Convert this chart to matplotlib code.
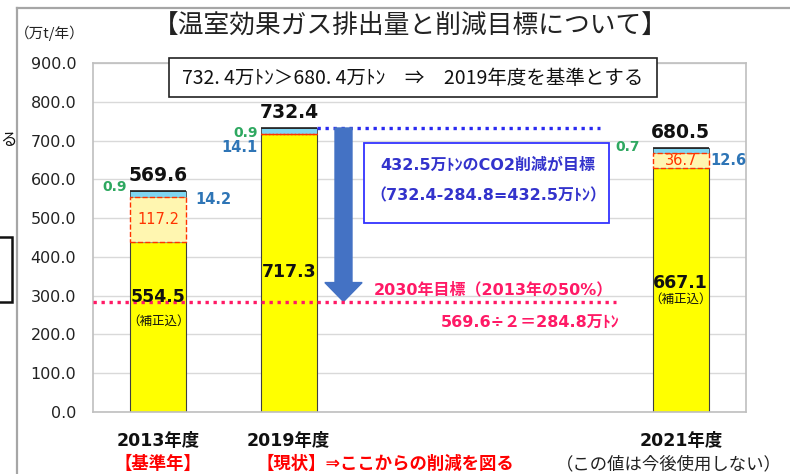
import matplotlib
matplotlib.use('Agg')
import matplotlib.pyplot as plt
from matplotlib.patches import Rectangle, FancyArrow
from matplotlib.lines import Line2D

plt.rcParams['font.family'] = ['DejaVu Sans', 'Noto Sans CJK JP']

# data
years = ['2013年度', '2019年度', '2021年度']
sublabels = ['【基準年】', '【現状】⇒ここからの削減を図る', '（この値は今後使用しない）']
xpos = [0, 1, 4]
base = [437.3, 717.3, 630.4]      # yellow
corr = [117.2, 0.0, 36.7]          # correction (dashed box)
blue = [14.2, 14.1, 12.6]          # light blue
green = [0.9, 0.9, 0.7]            # thin top
totals = [569.6, 732.4, 680.5]
adjusted = [554.5, 717.3, 667.1]
target = 284.8
yticks = [0, 100, 200, 300, 400, 500, 600, 700, 800, 900]

W, H = 790, 474
fig = plt.figure(figsize=(W / 100, H / 100), dpi=100)


def fx(x):
    return x / W


def fy(y):
    return 1 - y / H


ax = fig.add_axes([fx(93), fy(412), (746 - 93) / W, (412 - 63) / H])
ax.set_xlim(-0.5, 4.5)
ax.set_ylim(0, 900)
ax.set_yticks(yticks)
ax.set_yticklabels(['%.1f' % v for v in yticks], fontsize=11.5, color='#222222')
ax.set_xticks([])
ax.tick_params(axis='y', length=0, pad=12)
ax.grid(axis='y', color='#D9D9D9', lw=1)
ax.set_axisbelow(True)
for s in ax.spines.values():
    s.set_color('#BFBFBF')
    s.set_linewidth(1.2)

bw = 0.43
ax.bar(xpos, base, bw, color='#FFFF00', edgecolor='#404040', lw=0.8, zorder=2)
ax.bar(xpos, corr, bw, bottom=base, color='#FFF6B0', edgecolor='#FF3300',
       lw=1.0, ls='--', zorder=3)
b2 = [b + c for b, c in zip(base, corr)]
ax.bar(xpos, blue, bw, bottom=b2, color='#7FD6F2', edgecolor='#404040', lw=0.6, zorder=2)
b3 = [b + c for b, c in zip(b2, blue)]
ax.bar(xpos, green, bw, bottom=b3, color='#1E6B3A', edgecolor='#202020', lw=1.2, zorder=2)

# total labels
for x, t in zip(xpos, totals):
    ax.annotate('%.1f' % t, (x, t), xytext=(0, 6), textcoords='offset pixels',
                ha='center', va='bottom', fontsize=13.5, fontweight='bold', color='#111111')

# green / blue small labels (offsets in pixels relative to bar top)
g_off = [(-31, 4), (-31, -5), (-41, 1)]
b_off = [(37, -8), (-31, -20), (30, -12)]
for i, x in enumerate(xpos):
    ax.annotate('%.1f' % green[i], (x, totals[i]), xytext=g_off[i], textcoords='offset pixels',
                ha='right' if g_off[i][0] < 0 else 'left', va='center', fontsize=10,
                fontweight='bold', color='#2EA860')
    ax.annotate('%.1f' % blue[i], (x, totals[i]), xytext=b_off[i], textcoords='offset pixels',
                ha='right' if b_off[i][0] < 0 else 'left', va='center', fontsize=10.5,
                fontweight='bold', color='#2E75B6')

# correction labels
for x, b, c in zip(xpos, base, corr):
    if c > 0:
        ax.text(x, b + c / 2, '%.1f' % c, ha='center', va='center', fontsize=10.5,
                color='#FF3300', zorder=4)

# adjusted values inside yellow
lab_y = [296, 361, 333]
for i, x in enumerate(xpos):
    ax.text(x, lab_y[i], '%.1f' % adjusted[i], ha='center', va='center', fontsize=12.5,
            fontweight='bold', color='#111111', zorder=4)
    if corr[i] > 0:
        ax.annotate('（補正込）', (x, lab_y[i]), xytext=(0, -24 if i == 0 else -16),
                    textcoords='offset pixels', ha='center', va='center', fontsize=9,
                    color='#111111', zorder=4, family=['Noto Sans CJK JP'])

# blue dotted line and arrow
ax.plot([xpos[1] + bw / 2, 3.38], [totals[1], totals[1]], ls=(0, (1, 1.4)), lw=2.4,
        color='#2B2BF0', zorder=3)
ax.add_patch(FancyArrow(1.418, totals[1], 0, -(totals[1] - target), width=0.13,
                        head_width=0.285, head_length=49, length_includes_head=True,
                        color='#4472C4', zorder=3))

# pink target line
pink = '#FF1A66'
ax.plot([-0.5, 3.505], [target, target], ls=(0, (1, 1.4)), lw=2.4, color=pink,
        zorder=3, clip_on=False)
fig.text(fx(493), fy(290), '2030年目標（2013年の50%）', ha='center', va='center',
         fontsize=11.5, fontweight='bold', color=pink)
fig.text(fx(530), fy(322), '569.6÷２＝284.8万ﾄﾝ', ha='center', va='center',
         fontsize=11.5, fontweight='bold', color=pink)

# blue box
fig.add_artist(Rectangle((fx(364), fy(223)), (609 - 364) / W, (223 - 143) / H,
                         transform=fig.transFigure, facecolor='white',
                         edgecolor='#3333FF', lw=1.3, zorder=5))
fig.text(fx(488), fy(165), '432.5万ﾄﾝのCO2削減が目標', ha='center', va='center',
         fontsize=11.5, fontweight='bold', color='#3333CC', zorder=6)
fig.text(fx(488), fy(196), '（732.4-284.8=432.5万ﾄﾝ）', ha='center', va='center',
         fontsize=11.5, fontweight='bold', color='#3333CC', zorder=6)

# top box
fig.add_artist(Rectangle((fx(169), fy(97)), (657 - 169) / W, (97 - 58) / H,
                         transform=fig.transFigure, facecolor='white',
                         edgecolor='#222222', lw=1.2, zorder=5))
fig.text(fx(413), fy(78), '732. 4万ﾄﾝ＞680. 4万ﾄﾝ　⇒　2019年度を基準とする',
         ha='center', va='center', fontsize=14, color='#111111', zorder=6,
         family=['Noto Sans CJK JP', 'DejaVu Sans'])

# title and unit
fig.text(fx(410), fy(27), '【温室効果ガス排出量と削減目標について】', ha='center', va='center',
         fontsize=18.5, color='#222222', family=['Noto Sans CJK JP', 'DejaVu Sans'])
fig.text(fx(50), fy(33), '（万t/年）', ha='center', va='center', fontsize=10.5,
         color='#222222', family=['Noto Sans CJK JP', 'DejaVu Sans'])

# category labels
cx = [158, 288, 681]
for i in range(3):
    fig.text(fx(cx[i]), fy(441), years[i], ha='center', va='center', fontsize=12.5,
             fontweight='bold', color='#111111')
fig.text(fx(158), fy(464), sublabels[0], ha='center', va='center', fontsize=12.5,
         fontweight='bold', color='#FF0000')
fig.text(fx(256), fy(464), sublabels[1], ha='left', va='center', fontsize=12.5,
         fontweight='bold', color='#FF0000')
fig.text(fx(669), fy(464), sublabels[2], ha='center', va='center', fontsize=12.5,
         color='#222222', family=['Noto Sans CJK JP', 'DejaVu Sans'])

# slide frame and cropped leftovers
fig.add_artist(Line2D([fx(17), fx(17)], [fy(8), fy(474)], color='#A6A6A6', lw=1.6,
                      transform=fig.transFigure))
fig.add_artist(Line2D([fx(17), fx(790)], [fy(8), fy(8)], color='#A6A6A6', lw=1.6,
                      transform=fig.transFigure))
fig.text(fx(0), fy(140), 'る', ha='left', va='center', fontsize=12, color='#111111',
         family=['Noto Sans CJK JP'])
fig.add_artist(Rectangle((fx(-5), fy(302)), 17 / W, 65 / H, transform=fig.transFigure,
                         facecolor='none', edgecolor='#111111', lw=1.8))

fig.savefig('out.png', dpi=100)
